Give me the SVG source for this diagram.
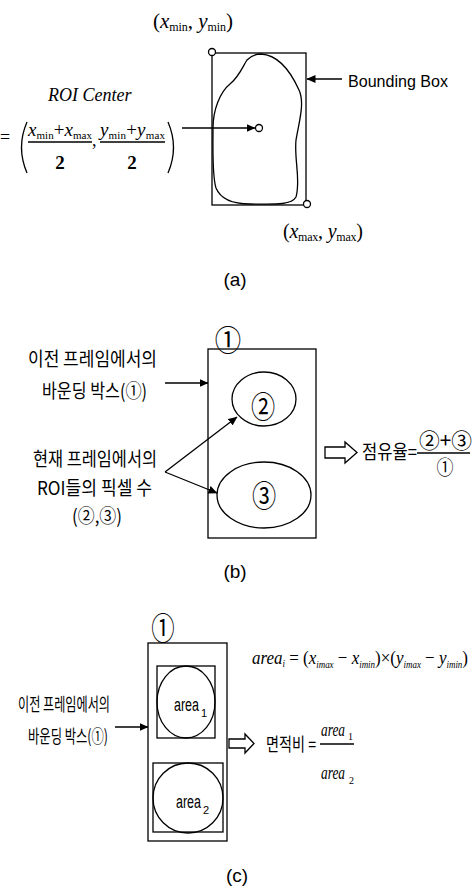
<svg xmlns="http://www.w3.org/2000/svg" width="474" height="889" viewBox="0 0 474 889">
<style>
.kr{font-family:"Noto Sans CJK KR","Noto Sans",sans-serif;fill:#000}
.se{font-family:"Liberation Serif","Times New Roman",serif;fill:#000}
.sa{font-family:"Liberation Sans",Arial,sans-serif;fill:#000}
.it{font-style:italic}
.ln{fill:none;stroke:#000;stroke-width:1.3}
.ar{fill:none;stroke:#000;stroke-width:1.3;marker-end:url(#ah)}
.dot{fill:#fff;stroke:#000;stroke-width:1.3}
.hol{fill:#fff;stroke:#000;stroke-width:1.3;stroke-linejoin:miter}
</style>
<defs>
<marker id="ah" markerWidth="9" markerHeight="8" refX="8.5" refY="4" orient="auto" markerUnits="userSpaceOnUse">
<path d="M0,0 L9,4 L0,8 z" fill="#000"/>
</marker>
</defs>
<rect width="474" height="889" fill="#fff"/>

<!-- Panel (a) -->
<g id="a-topleft-label">
<text class="se" x="153" y="28" font-size="21" textLength="80">(<tspan class="it">x</tspan><tspan font-size="12" dy="3">min</tspan><tspan dy="-3">, </tspan><tspan class="it">y</tspan><tspan font-size="12" dy="3">min</tspan><tspan dy="-3">)</tspan></text>
</g>
<g id="a-bbox">
<rect class="ln" x="212" y="53" width="94" height="152"/>
<path class="ln" d="M261,54 C277,55 290,70 299,90 C305,103 299,122 296,140 C294,160 301,180 296,197 C291,206 270,204 250,204 C234,204 221,200 216,188 C212,175 213,150 213,128 C213,110 220,92 230,84 C239,77 243,66 247,60 C252,55 256,54 261,54 Z"/>
<circle class="dot" cx="212" cy="52" r="3.5"/>
<circle class="dot" cx="307" cy="204" r="3.5"/>
<circle class="dot" cx="259" cy="128" r="3.5"/>
</g>
<g id="a-bbox-label">
<text class="sa" x="348" y="87" font-size="16" textLength="100" lengthAdjust="spacingAndGlyphs">Bounding Box</text>
</g>
<g id="a-roi-center">
<text class="se it" x="48" y="101" font-size="18">ROI Center</text>
<text class="se" x="0" y="143" font-size="18">=</text>
<path class="ln" d="M27,122 Q16,147.5 27,173"/>
<path class="ln" d="M168,122 Q179,147.5 168,173"/>
<text class="se" x="28" y="136" font-size="19" textLength="64"><tspan class="it">x</tspan><tspan font-size="11" dy="3">min</tspan><tspan dy="-3">+</tspan><tspan class="it">x</tspan><tspan font-size="11" dy="3">max</tspan></text>
<line class="ln" x1="28" y1="142" x2="92" y2="142"/>
<text class="se" x="60" y="169" font-size="19" font-weight="bold" text-anchor="middle">2</text>
<text class="se" x="92" y="146" font-size="18">,</text>
<text class="se" x="100" y="136" font-size="19" textLength="65"><tspan class="it">y</tspan><tspan font-size="11" dy="3">min</tspan><tspan dy="-3">+</tspan><tspan class="it">y</tspan><tspan font-size="11" dy="3">max</tspan></text>
<line class="ln" x1="100" y1="142" x2="165" y2="142"/>
<text class="se" x="132" y="169" font-size="19" font-weight="bold" text-anchor="middle">2</text>
</g>
<g id="a-bottomright-label">
<text class="se" x="283" y="238" font-size="20" textLength="80">(<tspan class="it">x</tspan><tspan font-size="12" dy="3">max</tspan><tspan dy="-3">, </tspan><tspan class="it">y</tspan><tspan font-size="12" dy="3">max</tspan><tspan dy="-3">)</tspan></text>
</g>
<g id="a-caption"><text class="sa" x="235" y="286" font-size="19" text-anchor="middle">(a)</text></g>

<!-- Panel (b) -->
<g id="b-box">
<rect class="ln" x="208" y="349" width="108" height="189"/>
<text class="kr" transform="translate(228,351) scale(0.91,1)" font-size="29" text-anchor="middle">①</text>
</g>
<g id="b-roi2">
<ellipse class="ln" cx="264" cy="399" rx="32" ry="27"/>
<text class="kr" transform="translate(263,418) scale(0.78,1)" font-size="31" text-anchor="middle">②</text>
</g>
<g id="b-roi3">
<ellipse class="ln" cx="264" cy="495" rx="47" ry="33"/>
<text class="kr" transform="translate(264,507) scale(0.78,1)" font-size="31" text-anchor="middle">③</text>
</g>
<g id="b-label-prev">
<text class="kr" x="28" y="366" font-size="19" textLength="129" lengthAdjust="spacingAndGlyphs">이전 프레임에서의</text>
<text class="kr" x="42" y="398" font-size="19" textLength="105" lengthAdjust="spacingAndGlyphs">바운딩 박스(①)</text>
</g>
<g id="b-label-cur">
<text class="kr" x="33" y="466" font-size="19" textLength="124" lengthAdjust="spacingAndGlyphs">현재 프레임에서의</text>
<text class="kr" x="37" y="495" font-size="19" textLength="115" lengthAdjust="spacingAndGlyphs">ROI들의 픽셀 수</text>
<text class="kr" x="72" y="523" font-size="19" textLength="50" lengthAdjust="spacingAndGlyphs">(②,③)</text>
</g>
<g id="b-result">
<path class="hol" d="M325,447 H345 V442 L357,452.5 L345,463 V458 H325 Z"/>
<text class="kr" x="362" y="459" font-size="19" textLength="55" lengthAdjust="spacingAndGlyphs">점유율=</text>
<text class="kr" x="419" y="448" font-size="21" textLength="53" lengthAdjust="spacingAndGlyphs">②+③</text>
<line class="ln" x1="417" y1="453" x2="470" y2="453"/>
<text class="kr" transform="translate(445,475) scale(0.85,1)" font-size="20" text-anchor="middle">①</text>
</g>
<g id="b-caption"><text class="sa" x="235" y="578" font-size="19" text-anchor="middle">(b)</text></g>

<!-- Panel (c) -->
<g id="c-box">
<rect class="ln" x="148" y="643" width="79" height="198"/>
<text class="kr" transform="translate(163,640) scale(0.73,1)" font-size="32" text-anchor="middle">①</text>
</g>
<g id="c-area1">
<rect class="ln" x="157" y="666" width="58" height="72"/>
<ellipse class="ln" cx="186" cy="702" rx="29" ry="36"/>
<text class="sa" x="174" y="711" font-size="18" textLength="25" lengthAdjust="spacingAndGlyphs">area</text>
<text class="sa" x="201" y="717" font-size="11">1</text>
</g>
<g id="c-area2">
<rect class="ln" x="153" y="763" width="70" height="69"/>
<ellipse class="ln" cx="188" cy="798" rx="35" ry="35"/>
<text class="sa" x="176" y="808" font-size="18" textLength="25" lengthAdjust="spacingAndGlyphs">area</text>
<text class="sa" x="203" y="814" font-size="11">2</text>
</g>
<g id="c-label-prev">
<text class="kr" x="18" y="711" font-size="18" textLength="92" lengthAdjust="spacingAndGlyphs">이전 프레임에서의</text>
<text class="kr" x="28" y="743" font-size="18" textLength="80" lengthAdjust="spacingAndGlyphs">바운딩 박스(①)</text>
</g>
<g id="c-formula">
<text class="se it" x="252" y="664" font-size="19" textLength="216" lengthAdjust="spacingAndGlyphs">area<tspan font-size="10" dy="3">i</tspan><tspan dy="-3" font-style="normal"> = (</tspan>x<tspan font-size="10" dy="4">imax</tspan><tspan dy="-4" font-style="normal"> − </tspan>x<tspan font-size="10" dy="4">imin</tspan><tspan dy="-4" font-style="normal">)×(</tspan>y<tspan font-size="10" dy="4">imax</tspan><tspan dy="-4" font-style="normal"> − </tspan>y<tspan font-size="10" dy="4">imin</tspan><tspan dy="-4" font-style="normal">)</tspan></text>
</g>
<g id="c-result">
<path class="hol" d="M229,739 H245 V734 L254,743.5 L245,753 V748 H229 Z"/>
<text class="kr" x="266" y="751" font-size="18" textLength="50" lengthAdjust="spacingAndGlyphs">면적비 =</text>
<text class="se it" x="321" y="736" font-size="18" textLength="24" lengthAdjust="spacingAndGlyphs">area</text>
<text class="se" x="348" y="740" font-size="10">1</text>
<line class="ln" x1="320" y1="744" x2="354" y2="744"/>
<text class="se it" x="321" y="779" font-size="18" textLength="24" lengthAdjust="spacingAndGlyphs">area</text>
<text class="se" x="349" y="784" font-size="10">2</text>
</g>
<g id="c-caption"><text class="sa" x="237" y="882" font-size="19" text-anchor="middle">(c)</text></g>

<g id="connectors">
<line class="ar" x1="182" y1="128" x2="255" y2="128"/>
<line class="ar" x1="342" y1="79" x2="307" y2="79"/>
<line class="ar" x1="165" y1="383" x2="208" y2="383"/>
<line class="ar" x1="165" y1="472" x2="237" y2="417"/>
<line class="ar" x1="165" y1="472" x2="217" y2="493"/>
<line class="ar" x1="115" y1="727" x2="148" y2="727"/>
</g>
</svg>
